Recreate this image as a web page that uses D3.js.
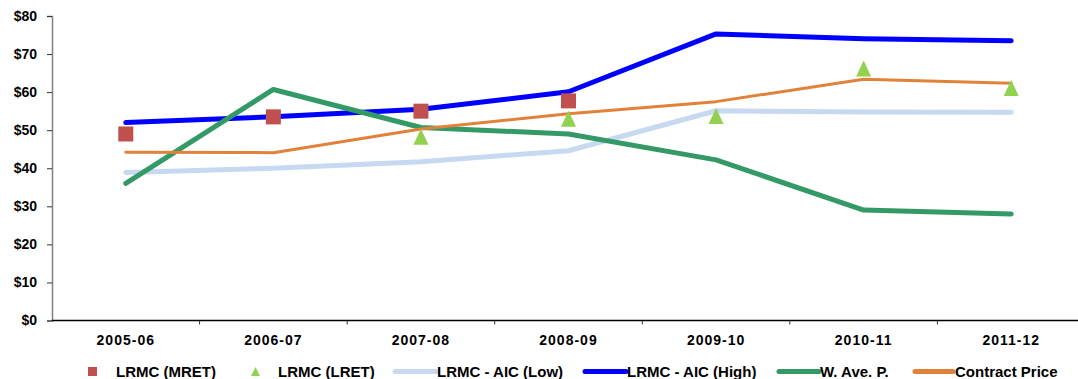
<!DOCTYPE html>
<html>
<head>
<meta charset="utf-8">
<script src="https://cdn.jsdelivr.net/npm/d3@7"></script>
<style>
  html, body { margin: 0; padding: 0; background: #fff; }
  svg { display: block; font-family: "Liberation Sans", Arial, sans-serif; }
</style>
</head>
<body>
<svg id="chart" width="1078" height="379"></svg>
<script>
// Price comparison, $/MWh by financial year
const years = ["2005-06", "2006-07", "2007-08", "2008-09", "2009-10", "2010-11", "2011-12"];
const yTicks = [0, 10, 20, 30, 40, 50, 60, 70, 80];

const lrmcMret = [49.0, 53.5, 55.0, 57.7, null, null, null];
const lrmcLret = [null, null, 48.3, 53.0, 53.7, 66.2, 61.1];
const aicLow   = [38.9, 40.0, 41.7, 44.6, 55.1, 54.8, 54.7];
const aicHigh  = [52.0, 53.5, 55.5, 60.1, 75.3, 74.0, 73.5];
const wAveP    = [36.0, 60.7, 50.7, 49.0, 42.2, 29.0, 28.0];
const contract = [44.2, 44.1, 50.3, 54.3, 57.5, 63.4, 62.3];

const svg = d3.select("#chart");
const plotLeft = 52, plotRight = 1085, plotTop = 16, plotBottom = 320.5;

const x = d3.scaleBand().domain(years).range([plotLeft, plotRight]);
const y = d3.scaleLinear().domain([0, 80]).range([plotBottom, plotTop]);
const cx = d => x(d) + x.bandwidth() / 2;

// Y axis
const yAxis = svg.append("g").attr("transform", `translate(${plotLeft},0)`)
  .call(d3.axisLeft(y).tickValues(yTicks).tickSize(5).tickPadding(10).tickFormat(d => "$" + d));
yAxis.select(".domain").attr("stroke", "#808080").attr("stroke-width", 1.5);
yAxis.selectAll(".tick line").attr("stroke", "#333");
yAxis.selectAll(".tick text").attr("font-size", 14).attr("font-weight", "bold").attr("fill", "#000")
  .attr("font-family", "Liberation Sans, Arial, sans-serif");

// X axis with tick marks at category boundaries
const xg = svg.append("g").attr("transform", `translate(0,${plotBottom})`);
xg.append("line").attr("x1", plotLeft).attr("x2", 1078).attr("stroke", "#000").attr("stroke-width", 1.5);
const bounds = years.map(d => x(d)).slice(1);
xg.selectAll("line.tk").data(bounds).join("line").attr("class", "tk")
  .attr("x1", d => d).attr("x2", d => d).attr("y1", 0).attr("y2", 4).attr("stroke", "#333");
xg.selectAll("text").data(years).join("text")
  .attr("x", d => cx(d)).attr("y", 24).attr("text-anchor", "middle")
  .attr("font-size", 14).attr("font-weight", "bold").attr("letter-spacing", "1px").text(d => d);

// Lines
const line = d3.line().defined(d => d.v != null).x(d => cx(d.k)).y(d => y(d.v));
const series = [
  { name: "LRMC - AIC (Low)",  data: aicLow,   color: "#c6d9f1", w: 5 },
  { name: "LRMC - AIC (High)", data: aicHigh,  color: "#0000ff", w: 5 },
  { name: "W. Ave. P.",        data: wAveP,    color: "#339966", w: 5 },
  { name: "Contract Price",    data: contract, color: "#e0823a", w: 3 }
];
series.forEach(s => {
  svg.append("path")
    .datum(years.map((k, i) => ({ k, v: s.data[i] })))
    .attr("d", line).attr("fill", "none").attr("stroke", s.color)
    .attr("stroke-width", s.w).attr("stroke-linecap", "round").attr("stroke-linejoin", "round");
});

// Markers
const sq = 15;
svg.selectAll("rect.mret").data(years.map((k, i) => ({ k, v: lrmcMret[i] })).filter(d => d.v != null))
  .join("rect").attr("class", "mret")
  .attr("x", d => cx(d.k) - sq / 2).attr("y", d => y(d.v) - sq / 2)
  .attr("width", sq).attr("height", sq).attr("fill", "#c0504d");

const tri = (px, py, w, h) => `M${px - w / 2},${py + h / 2}L${px},${py - h / 2}L${px + w / 2},${py + h / 2}Z`;
svg.selectAll("path.lret").data(years.map((k, i) => ({ k, v: lrmcLret[i] })).filter(d => d.v != null))
  .join("path").attr("class", "lret")
  .attr("d", d => tri(cx(d.k), y(d.v), 15, 16)).attr("fill", "#92d050");

// Legend
const ly = 371.5;
const lg = svg.append("g").attr("font-size", 15).attr("font-weight", "bold");
lg.append("rect").attr("x", 88).attr("y", ly - 4.5).attr("width", 9).attr("height", 9).attr("fill", "#c0504d");
lg.append("text").attr("x", 116).attr("y", ly + 5.5).text("LRMC (MRET)");
lg.append("path").attr("d", tri(255.5, ly, 9, 9)).attr("fill", "#92d050");
lg.append("text").attr("x", 278).attr("y", ly + 5.5).text("LRMC (LRET)");
const legLines = [
  { s: series[0], x1: 395, x2: 436, tx: 437 },
  { s: series[1], x1: 585, x2: 626, tx: 627 },
  { s: series[2], x1: 779, x2: 819, tx: 820 },
  { s: series[3], x1: 915, x2: 953, tx: 955 }
];
legLines.forEach(l => {
  lg.append("line").attr("x1", l.x1).attr("x2", l.x2).attr("y1", ly).attr("y2", ly)
    .attr("stroke", l.s.color).attr("stroke-width", 5).attr("stroke-linecap", "round");
  lg.append("text").attr("x", l.tx).attr("y", ly + 5.5).text(l.s.name);
});
</script>
</body>
</html>
